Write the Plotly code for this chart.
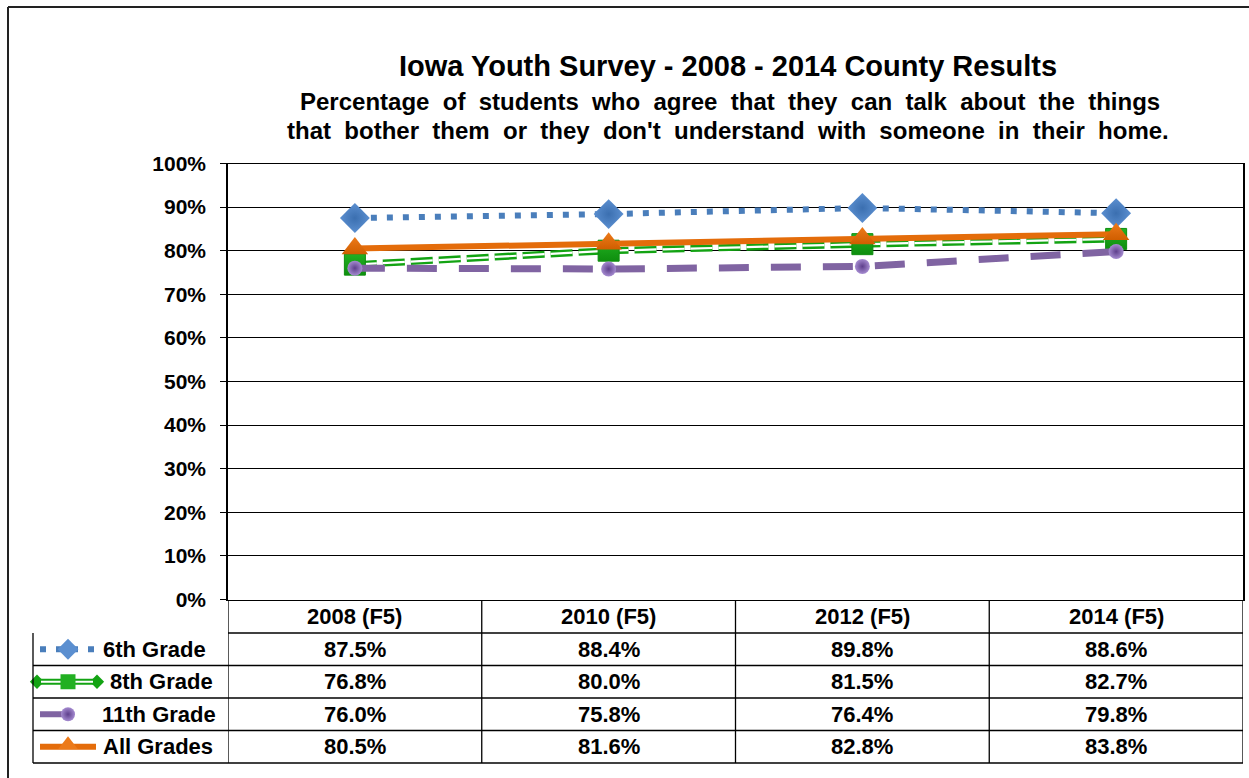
import plotly.graph_objects as go

# ---------------- data ----------------
categories = ["2008 (F5)", "2010 (F5)", "2012 (F5)", "2014 (F5)"]
series_names = ["6th Grade", "8th Grade", "11th Grade", "All Grades"]
grade6 = [87.5, 88.4, 89.8, 88.6]
grade8 = [76.8, 80.0, 81.5, 82.7]
grade11 = [76.0, 75.8, 76.4, 79.8]
all_grades = [80.5, 81.6, 82.8, 83.8]
y_ticks = [0, 10, 20, 30, 40, 50, 60, 70, 80, 90, 100]
y_tick_labels = ["0%", "10%", "20%", "30%", "40%", "50%", "60%", "70%", "80%", "90%", "100%"]

title1 = "Iowa Youth Survey - 2008 - 2014 County Results"
title2 = "Percentage  of  students  who  agree  that  they  can  talk  about  the  things"
title3 = "that  bother  them  or  they  don't  understand  with  someone  in  their  home."

# ---------------- layout constants (pixels) ----------------
W, H = 1249, 778
PL, PR = 228, 1243        # plot area left/right
PT, PB = 163.5, 599.5     # plot area top (100%) / bottom (0%)
TL = 33                   # table left edge
row_edges = [600, 633, 665.5, 698, 730.5, 763]
label_centers = [154, 161, 159, 158]   # legend-label x centres in the table

def px(x):
    return x / W

def py(y):
    return 1 - y / H

BLUE = "#4A7EBB"
GREEN = "#13A313"
PURPLE = "#8064A2"
ORANGE = "#E46C0A"
FONT = "Liberation Sans, Arial, sans-serif"

fig = go.Figure()

values = [grade6, grade8, grade11, all_grades]

# 6th grade: dotted blue with diamonds
fig.add_trace(go.Scatter(
    x=categories, y=grade6, mode="lines+markers", name=series_names[0],
    line=dict(color=BLUE, width=6, dash="6px,10px"),
    marker=dict(symbol="diamond", size=23, color="#5B8FD0",
                gradient=dict(type="radial", color="#3B6FB0"),
                line=dict(width=0)),
    cliponaxis=False, showlegend=False))

# 8th grade: green double dashed line (wide green + white inner)
fig.add_trace(go.Scatter(
    x=categories, y=grade8, mode="lines", name=series_names[1],
    line=dict(color=GREEN, width=7, dash="22px,6px"),
    cliponaxis=False, showlegend=False, hoverinfo="skip"))
fig.add_trace(go.Scatter(
    x=categories, y=grade8, mode="lines+markers", name=series_names[1],
    line=dict(color="white", width=2.2, dash="22px,6px"),
    marker=dict(symbol="square", size=21, color="#22B022",
                gradient=dict(type="vertical", color="#0E8E0E"),
                line=dict(width=1, color="#0E8E0E")),
    cliponaxis=False, showlegend=False))

# 11th grade: long-dash purple with circles
fig.add_trace(go.Scatter(
    x=categories, y=grade11, mode="lines+markers", name=series_names[2],
    line=dict(color=PURPLE, width=7, dash="30px,22px"),
    marker=dict(symbol="circle", size=15, color="#A58BD0",
                gradient=dict(type="radial", color="#5E3F8C"),
                line=dict(width=0)),
    cliponaxis=False, showlegend=False))

# All grades: orange solid with triangles
fig.add_trace(go.Scatter(
    x=categories, y=all_grades, mode="lines+markers", name=series_names[3],
    line=dict(color=ORANGE, width=6),
    marker=dict(symbol="triangle-up", size=23, color="#EC7A1A",
                gradient=dict(type="vertical", color="#D05E00"),
                line=dict(width=0)),
    cliponaxis=False, showlegend=False))

# ---------------- legend keys (overlay pixel axis) ----------------
row_centers = [(row_edges[i] + row_edges[i + 1]) / 2 for i in range(1, 5)]
kx = [40, 96]
kmid = 68
# 6th
fig.add_trace(go.Scatter(x=kx, y=[row_centers[0]] * 2, mode="lines", xaxis="x2", yaxis="y2",
                         line=dict(color=BLUE, width=6, dash="6px,10px"), showlegend=False, hoverinfo="skip"))
fig.add_trace(go.Scatter(x=[kmid], y=[row_centers[0]], mode="markers", xaxis="x2", yaxis="y2",
                         marker=dict(symbol="diamond", size=16, color="#5B8FD0"), showlegend=False, hoverinfo="skip"))
# 8th
fig.add_trace(go.Scatter(x=[37, 97], y=[row_centers[1]] * 2, mode="lines+markers", xaxis="x2", yaxis="y2",
                         line=dict(color=GREEN, width=6),
                         marker=dict(symbol="diamond", size=11, color=GREEN), showlegend=False, hoverinfo="skip"))
fig.add_trace(go.Scatter(x=[41, 93], y=[row_centers[1]] * 2, mode="lines", xaxis="x2", yaxis="y2",
                         line=dict(color="white", width=2), showlegend=False, hoverinfo="skip"))
fig.add_trace(go.Scatter(x=[kmid], y=[row_centers[1]], mode="markers", xaxis="x2", yaxis="y2",
                         marker=dict(symbol="square", size=15, color="#22B022"), showlegend=False, hoverinfo="skip"))
# 11th
fig.add_trace(go.Scatter(x=[40, 66], y=[row_centers[2]] * 2, mode="lines", xaxis="x2", yaxis="y2",
                         line=dict(color=PURPLE, width=6), showlegend=False, hoverinfo="skip"))
fig.add_trace(go.Scatter(x=[68], y=[row_centers[2]], mode="markers", xaxis="x2", yaxis="y2",
                         marker=dict(symbol="circle", size=14, color="#A58BD0",
                                     gradient=dict(type="radial", color="#5E3F8C")),
                         showlegend=False, hoverinfo="skip"))
# All
fig.add_trace(go.Scatter(x=[40, 96], y=[row_centers[3]] * 2, mode="lines", xaxis="x2", yaxis="y2",
                         line=dict(color=ORANGE, width=6), showlegend=False, hoverinfo="skip"))
fig.add_trace(go.Scatter(x=[kmid], y=[row_centers[3] - 2], mode="markers", xaxis="x2", yaxis="y2",
                         marker=dict(symbol="triangle-up", size=17, color="#EC7A1A"), showlegend=False, hoverinfo="skip"))

# ---------------- table ----------------
shapes = []
line_style = dict(color="black", width=1.3)
shapes.append(dict(type="line", xref="x", yref="paper", x0=-0.5, x1=len(categories) - 0.5,
                   y0=py(row_edges[1]), y1=py(row_edges[1]), line=line_style))
for r in row_edges[2:]:
    shapes.append(dict(type="line", xref="paper", yref="paper", x0=px(TL), x1=px(PR),
                       y0=py(r), y1=py(r), line=line_style))
for i in range(len(categories) + 1):
    shapes.append(dict(type="line", xref="x", yref="paper", x0=i - 0.5, x1=i - 0.5,
                       y0=py(row_edges[0]), y1=py(row_edges[-1]), line=line_style))
shapes.append(dict(type="line", xref="paper", yref="paper", x0=px(TL), x1=px(TL),
                   y0=py(row_edges[1]), y1=py(row_edges[-1]), line=line_style))
# outer chart border (top + left)
shapes.append(dict(type="line", xref="paper", yref="paper", x0=px(8), x1=1.01,
                   y0=py(7), y1=py(7), line=dict(color="#222", width=2)))
shapes.append(dict(type="line", xref="paper", yref="paper", x0=px(8), x1=px(8),
                   y0=py(7), y1=-0.01, line=dict(color="#222", width=2)))

annotations = []
cell_font = dict(family=FONT, size=22, color="black", weight="bold")
header_y = (row_edges[0] + row_edges[1]) / 2
for i, c in enumerate(categories):
    annotations.append(dict(x=c, y=py(header_y), xref="x", yref="paper", text=c,
                            showarrow=False, font=cell_font, xanchor="center", yanchor="middle"))
for r, (name, vals) in enumerate(zip(series_names, values)):
    yc = py(row_centers[r])
    annotations.append(dict(x=px(label_centers[r]), y=yc, xref="paper", yref="paper", text=name,
                            showarrow=False, font=cell_font, xanchor="center", yanchor="middle"))
    for c, v in zip(categories, vals):
        annotations.append(dict(x=c, y=yc, xref="x", yref="paper", text=f"{v:.1f}%",
                                showarrow=False, font=cell_font, xanchor="center", yanchor="middle"))

# titles
annotations.append(dict(x=px(728), y=py(66), xref="paper", yref="paper", text=title1, showarrow=False,
                        font=dict(family=FONT, size=29, color="black", weight="bold"),
                        xanchor="center", yanchor="middle"))
annotations.append(dict(x=px(730), y=py(101), xref="paper", yref="paper", text=title2, showarrow=False,
                        font=dict(family=FONT, size=24, color="black", weight="bold"),
                        xanchor="center", yanchor="middle"))
annotations.append(dict(x=px(728), y=py(131), xref="paper", yref="paper", text=title3, showarrow=False,
                        font=dict(family=FONT, size=24, color="black", weight="bold"),
                        xanchor="center", yanchor="middle"))

fig.update_layout(
    width=W, height=H, autosize=False,
    margin=dict(l=0, r=0, t=0, b=0, pad=0, autoexpand=False),
    paper_bgcolor="white", plot_bgcolor="rgba(0,0,0,0)",
    xaxis=dict(domain=[px(PL), px(PR)], type="category", categoryorder="array",
               categoryarray=categories, range=[-0.5, len(categories) - 0.5],
               showticklabels=False, ticks="", showgrid=False, zeroline=False,
               showline=True, mirror=True, linecolor="black", linewidth=1.3),
    yaxis=dict(domain=[py(PB), py(PT)], range=[0, 100], tickvals=y_ticks, ticktext=y_tick_labels,
               ticks="outside", ticklen=6, tickcolor="black", tickwidth=1.3,
               ticklabelstandoff=10,
               showgrid=True, gridcolor="black", gridwidth=1.1, zeroline=False,
               showline=True, mirror=True, linecolor="black", linewidth=1.6,
               tickfont=dict(family=FONT, size=21, color="black", weight="bold")),
    xaxis2=dict(domain=[0, 1], range=[0, W], visible=False, anchor="y2"),
    yaxis2=dict(domain=[0, 1], range=[H, 0], visible=False, anchor="x2"),
    shapes=shapes, annotations=annotations,
    hovermode=False,
)

fig.write_html("out.html", config={"displayModeBar": False, "responsive": False},
               post_script="document.body.style.margin='0';document.body.style.overflow='hidden';")
